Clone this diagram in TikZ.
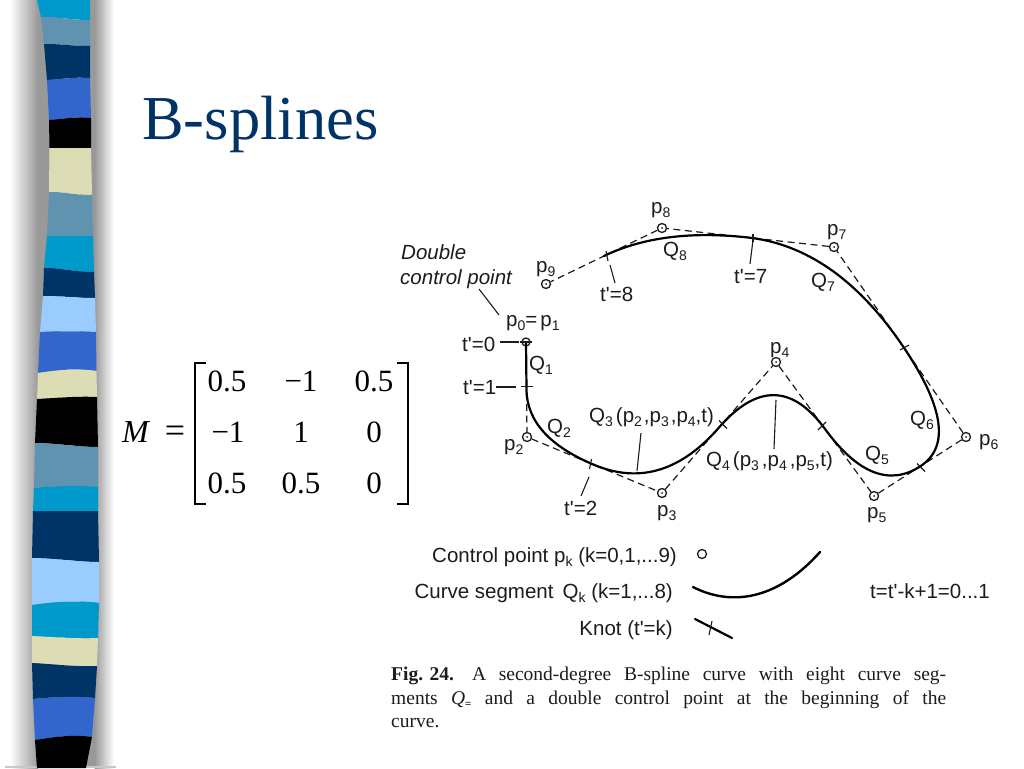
\documentclass[tikz,border=0pt]{standalone}
\usepackage{fontspec}
\usetikzlibrary{calc}
\setmainfont{Liberation Serif}
\newfontfamily\arialf{Liberation Sans}
\definecolor{scyan}{HTML}{0099CC}
\definecolor{ssteel}{HTML}{5F93AF}
\definecolor{snavy}{HTML}{003366}
\definecolor{sroyal}{HTML}{3366CC}
\definecolor{scream}{HTML}{DDDDB5}
\definecolor{slight}{HTML}{99CCFF}
\definecolor{sshadow}{HTML}{999999}
\definecolor{inkc}{HTML}{1C1C1C}
\newcommand{\sbs}[1]{\raisebox{-4pt}{\fontsize{14}{14}\selectfont #1}}
\tikzset{
  x=1pt,y=-1pt,
  lbl/.style={anchor=base west,inner sep=0pt,text=inkc,font=\arialf\fontsize{20.5}{22}\selectfont},
  lblit/.style={lbl,font=\arialf\itshape\fontsize{20.5}{22}\selectfont},
  ctrl/.style={circle,draw=inkc,line width=1.3pt,minimum size=9pt,inner sep=0pt},
  polyline/.style={draw=inkc,line width=1.2pt,dash pattern=on 7pt off 4.5pt},
  splinecurve/.style={draw=black,line width=2.2pt,line cap=round},
  tickmark/.style={draw=inkc,line width=1.1pt},
  leader/.style={draw=inkc,line width=1.1pt},
  mat/.style={anchor=base,inner sep=0pt,text=black,font=\fontsize{31}{34}\selectfont},
}
\newcommand{\qseg}[3]{.. controls ($(#1)!.6667!(#2)$) and ($(#3)!.6667!(#2)$) .. (#3)}
\begin{document}
\begin{tikzpicture}
\path[use as bounding box] (0,0) rectangle (1024,768);
\fill[white] (0,0) rectangle (1024,768);
% shadow
\shade[left color=white,right color=sshadow,draw=none] (10,0) rectangle (38,768);
\fill[sshadow] (38,0) rectangle (60,768);
\fill[sshadow] (80,0) rectangle (95,768);
\shade[left color=sshadow,right color=white,draw=none] (94.5,0) rectangle (114,768);
\fill[sshadow!55] (5,766) rectangle (116,768);
% stripes
\foreach \c/\xl/\yl/\xr/\yr/\b [remember=\xl as \pxl (initially 37),remember=\yl as \pyl (initially 0),remember=\xr as \pxr (initially 90),remember=\yr as \pyr (initially 0),remember=\b as \pb (initially 0)] in {
 scyan/41/17/90/20/0, ssteel/44/44/90/46/0, snavy/47/80/90/78/-1, sroyal/49/120/91/118/-1.5,
 black/49.5/148/91/148/0, scream/49/192/92/195/0, ssteel/47/236/93/236/0, scyan/44/268/94/272/0,
 snavy/43/296/95/298/0, slight/40/332/96/332/-1, sroyal/38/373/96.5/371/-3, scream/37/399/97/397/-1,
 black/35/443/98/447/0, ssteel/34/488/98/487/-2, scyan/33/511/98/511/0, snavy/32/558/99/562/0,
 slight/32/605/99/603/-3, scyan/32/636/98/638/1, scream/32/663/97/666/1, snavy/33/699/95/698/-2,
 sroyal/35/740/92/737/-3, black/37/768/86/768/0}
 {\fill[\c] (\pxl,\pyl) .. controls ({\pxl+20},{\pyl+\pb}) and ({\pxr-20},{\pyr+\pb}) .. (\pxr,\pyr)
   -- (\xr,\yr) .. controls ({\xr-20},{\yr+\b}) and ({\xl+20},{\yl+\b}) .. (\xl,\yl) -- cycle;}
% title
\node[anchor=base west,inner sep=0pt,text=snavy,font=\fontsize{62.5}{66}\selectfont] (title) at (142,139) {B-splines};
% matrix
\node[anchor=base west,inner sep=0pt,font=\itshape\fontsize{32}{34}\selectfont] (mM) at (122,442) {M};
\node[anchor=base,inner sep=0pt,font=\fontsize{36}{34}\selectfont] (meq) at (175,442) {=};
\draw[black,line width=1.3pt] (206,363) -- (195,363) -- (195,504) -- (206,504);
\draw[black,line width=1.3pt] (397,363) -- (408,363) -- (408,504) -- (397,504);
\node[mat] (m11) at (227,391) {0.5};
\node[mat] (m12) at (301,391) {−1};
\node[mat] (m13) at (374,391) {0.5};
\node[mat] (m21) at (228,442) {−1};
\node[mat] (m22) at (301,442) {1};
\node[mat] (m23) at (374,442) {0};
\node[mat] (m31) at (227,493) {0.5};
\node[mat] (m32) at (301,493) {0.5};
\node[mat] (m33) at (374,493) {0};
% control points
\coordinate (c1) at (526,342);
\coordinate (c2) at (527,437);
\coordinate (c3) at (662,493);
\coordinate (c4) at (776,362);
\coordinate (c5) at (874,496);
\coordinate (c6) at (966,437);
\coordinate (c7) at (834,247);
\coordinate (c8) at (662,228);
\coordinate (c9) at (546,284);
\foreach \a/\b/\k in {1/2/1,2/3/2,3/4/3,4/5/4,5/6/5,6/7/6,7/8/7,8/9/8}
  {\coordinate (k\k) at ($(c\a)!.5!(c\b)$);}
\foreach \i in {2,...,9} {\node[ctrl] (p\i) at (c\i) {};}
\node[ctrl,minimum size=8pt] (p1) at (c1) {};
\foreach \i in {2,...,9} {\fill[inkc] (c\i) circle (1pt);}
\foreach \a/\b in {1/2,2/3,3/4,4/5,5/6,6/7,7/8,8/9} {\draw[polyline] (p\a) -- (p\b);}
% curve
\draw[splinecurve] (c1) -- (k1) \qseg{k1}{c2}{k2} \qseg{k2}{c3}{k3} \qseg{k3}{c4}{k4} \qseg{k4}{c5}{k5} \qseg{k5}{c6}{k6} \qseg{k6}{c7}{k7} \qseg{k7}{c8}{k8};
% knots
\draw[tickmark] ($(c1)+(-6,0)$) -- ($(c1)+(6,0)$);
\draw[tickmark] ($(k1)+(-6,-3)$) -- ($(k1)+(6,-3)$);
\draw[tickmark] ($(k2)+(-3,-6)$) -- ($(k2)+(-5,4)$);
\draw[tickmark] ($(k3)+(0,-7)$) -- ($(k3)+(8,1)$);
\draw[tickmark] ($(k4)+(-7,1)$) -- ($(k4)+(1,-7)$);
\draw[tickmark] ($(k5)+(-3,-3)$) -- ($(k5)+(5,5)$);
\draw[tickmark] ($(k6)+(0,8)$) -- ($(k6)+(9,3)$);
\draw[tickmark] ($(k7)+(5,-4)$) -- ($(k7)+(5,4)$);
\draw[tickmark] ($(k8)+(2,-5)$) -- ($(k8)+(4,5)$);
% labels
\node[lblit] (dbl1) at (401,259) {Double};
\node[lblit] (dbl2) at (400,284) {control point};
\node[lbl] (lp0) at (506,326) {p\sbs{0}=\hspace{3pt}p\sbs{1}};
\node[lbl] (lt0) at (462,351) {t'=0};
\node[lbl] (lt1) at (463,394) {t'=1};
\node[lbl] (lq1) at (529,370) {Q\sbs{1}};
\node[lbl] (lq2) at (547,433) {Q\sbs{2}};
\node[lbl] (lp2) at (504,450) {p\sbs{2}};
\node[lbl] (lq3) at (589,422) {Q\sbs{3}\hspace{3pt}(p\sbs{2}\hspace{2pt},p\sbs{3}\hspace{2pt},p\sbs{4},t)};
\node[lbl] (lt2) at (564,515) {t'=2};
\node[lbl] (lp3) at (657,516) {p\sbs{3}};
\node[lbl] (lp9) at (536,272) {p\sbs{9}};
\node[lbl] (lp8) at (651,213) {p\sbs{8}};
\node[lbl] (lq8) at (663,256) {Q\sbs{8}};
\node[lbl] (lt8) at (600,301) {t'=8};
\node[lbl] (lt7) at (734,283) {t'=7};
\node[lbl] (lp7) at (827,235) {p\sbs{7}};
\node[lbl] (lq7) at (811,287) {Q\sbs{7}};
\node[lbl] (lp4) at (770,353) {p\sbs{4}};
\node[lbl] (lq4) at (706,466) {Q\sbs{4}\hspace{3pt}(p\sbs{3}\hspace{3pt},p\sbs{4}\hspace{3pt},p\sbs{5},t)};
\node[lbl] (lq5) at (865,460) {Q\sbs{5}};
\node[lbl] (lq6) at (910,425) {Q\sbs{6}};
\node[lbl] (lp6) at (979,445) {p\sbs{6}};
\node[lbl] (lp5) at (867,518) {p\sbs{5}};
% leaders
\coordinate (a1) at (479,289); \coordinate (a2) at (499,315);
\draw[leader] (a1) -- (a2);
\coordinate (b1) at (500,342); \coordinate (b2) at (519,342);
\draw[leader] (b1) -- (b2);
\coordinate (d1) at (496,387); \coordinate (d2) at (516,387);
\draw[leader] (d1) -- (d2);
\coordinate (e1) at (641,433); \coordinate (e2) at (637,471);
\draw[leader] (e1) -- (e2);
\coordinate (f1) at (589,477); \coordinate (f2) at (581,496);
\draw[leader] (f1) -- (f2);
\coordinate (g1) at (610,265); \coordinate (g2) at (615,283);
\draw[leader] (g1) -- (g2);
\coordinate (h1) at (753,240); \coordinate (h2) at (750,264);
\draw[leader] (h1) -- (h2);
\coordinate (i1) at (776,400); \coordinate (i2) at (774,449);
\draw[leader] (i1) -- (i2);
% legend
\node[lbl,anchor=base east] (leg1) at (677,562) {Control point p\sbs{k} (k=0,1,...9)};
\node[lbl,anchor=base east] (leg2) at (673,598) {Curve segment\, Q\sbs{k} (k=1,...8)};
\node[lbl,anchor=base east] (leg3) at (673,635) {Knot (t'=k)};
\node[lbl] (leg4) at (870,598) {t=t'-k+1=0...1};
\node[ctrl] (legp) at (702,554) {};
\coordinate (s1) at (693,587); \coordinate (s2) at (820,552);
\draw[splinecurve,line width=2.4pt] (s1) .. controls (722,602) and (770,608) .. (s2);
\coordinate (n1) at (695,619); \coordinate (n2) at (732,638);
\draw[splinecurve,line width=2.2pt] (n1) -- (n2);
\draw[tickmark] (712,621) -- (709,635);
% caption
\node[anchor=north west,inner sep=0pt,text width=555pt,align=justify,text=inkc,font=\fontsize{19.5}{23.5}\selectfont] (cap) at (391,667)
 {\mbox{\textbf{Fig. 24.}}\hspace{18pt}A second-degree B-spline curve with eight curve seg-\linebreak ments \textit{Q}\raisebox{-3pt}{\fontsize{11}{11}\selectfont\textbf{=}} and a double control point at the beginning of the\linebreak curve.};
\end{tikzpicture}
\end{document}
